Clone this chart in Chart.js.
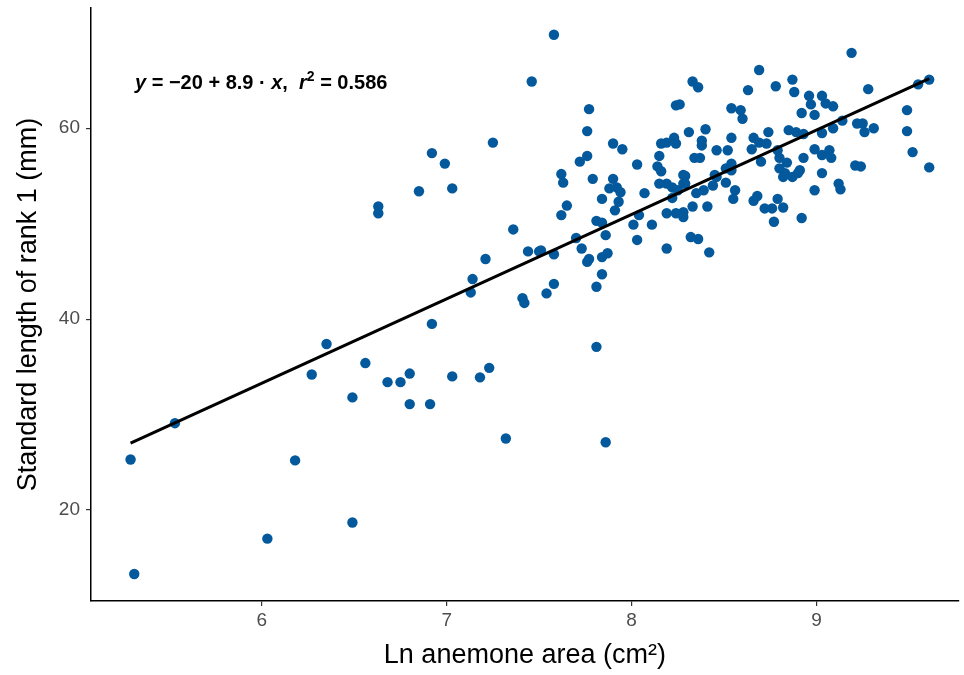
<!DOCTYPE html>
<html>
<head>
<meta charset="utf-8">
<script src="https://cdn.jsdelivr.net/npm/chart.js@4.4.1/dist/chart.umd.min.js"></script>
<style>
  html, body { margin: 0; padding: 0; background: #fff; }
  canvas { display: block; }
</style>
</head>
<body>
<canvas id="chart" width="964" height="675"></canvas>
<script>
// ln anemone area (x) and standard length of rank 1 fish (y)
const lnArea = [
  6.92, 6.35, 6.56, 6.27, 6.80, 6.68, 6.75, 7.03, 7.18, 7.23,
  6.49, 6.80, 6.91, 5.53, 7.32, 5.29, 6.18, 6.49, 6.03, 5.31,
  7.25, 6.92, 6.99, 6.85, 7.03, 6.63, 6.63, 7.36, 7.44, 7.50,
  7.58, 7.21, 7.14, 7.13, 7.41, 7.42, 7.54, 7.58,
  7.58, 7.46, 7.77, 7.76, 8.24, 7.90, 7.95, 7.76, 7.72, 8.03,
  8.15, 8.16, 8.19, 8.23, 8.24, 8.14, 8.16, 7.62, 7.79, 7.90,
  7.63, 7.88, 7.92, 7.94, 7.84, 7.93, 8.07, 8.15, 8.19, 8.22,
  8.28, 8.28, 8.25, 8.22, 8.35, 7.65, 7.62, 7.91, 7.81, 7.84,
  8.04, 8.01, 8.11, 8.19, 8.24, 8.28, 8.28, 8.33, 7.86, 7.70,
  7.73, 8.03, 8.19, 8.32, 8.36, 7.51, 7.77, 7.76, 7.84, 7.87,
  7.84, 7.81, 7.81, 7.86,
  8.69, 8.33, 8.36, 8.63, 8.78, 8.87, 8.88, 8.96, 9.03, 8.97,
  8.92, 8.99, 9.05, 8.26, 8.54, 8.59, 8.60, 8.31, 8.40, 8.38,
  8.38, 8.54, 8.74, 8.66, 8.69, 8.73, 8.65, 8.46, 8.52, 8.85,
  8.89, 8.93, 9.03, 8.34, 8.37, 8.70, 8.79, 8.80, 8.84, 8.93,
  8.99, 9.03, 9.07, 8.54, 8.51, 8.45, 8.29, 8.80, 8.83, 8.91,
  9.03,
  8.29, 8.46, 8.51, 8.54, 8.44, 8.39, 8.41, 8.56, 8.55, 8.68,
  8.66, 8.72, 8.76, 8.79, 8.82, 8.77, 8.92, 8.99, 8.82, 8.87,
  8.90, 8.42,
  9.19, 9.28, 9.55, 9.61, 9.09, 9.14, 9.09, 9.22, 9.25, 9.26,
  9.31, 9.49, 9.49, 9.52, 9.61, 9.08, 9.21, 9.24, 9.12, 9.13
];
const stdLength = [
  39.5, 37.4, 35.4, 34.2, 34.3, 33.4, 33.4, 34.0, 33.9, 34.9,
  31.8, 31.1, 31.1, 29.1, 27.5, 25.3, 25.2, 18.7, 17.0, 13.3,
  58.5, 57.4, 56.3, 53.4, 53.7, 51.8, 51.1, 49.4, 47.1, 47.1,
  46.8, 46.3, 44.2, 42.8, 42.2, 41.7, 42.7, 43.7,
  69.8, 64.9, 62.0, 59.7, 62.4, 58.4, 57.8, 57.1, 56.5, 56.2,
  57.1, 58.4, 58.5, 59.0, 58.4, 56.0, 55.5, 55.2, 54.7, 54.7,
  54.3, 53.7, 53.8, 53.3, 52.6, 52.3, 53.2, 54.2, 54.2, 53.8,
  55.1, 54.2, 53.5, 52.7, 53.2, 51.9, 50.9, 51.4, 50.3, 50.1,
  50.9, 49.9, 49.9, 51.1, 51.1, 51.2, 50.7, 51.8, 48.8, 48.5,
  47.4, 48.3, 47.4, 48.6, 48.4, 47.2, 46.3, 46.0, 46.5, 46.9,
  44.7, 43.4, 37.1, 27.1,
  66.1, 64.9, 64.3, 64.0, 64.4, 65.1, 63.8, 63.4, 63.4, 62.5,
  61.6, 61.4, 62.6, 62.5, 62.1, 61.9, 61.0, 59.6, 59.9, 58.7,
  58.2, 59.0, 59.6, 59.0, 58.5, 58.4, 57.8, 57.7, 57.7, 59.8,
  59.6, 59.4, 59.5, 56.9, 56.9, 56.5, 57.7, 56.9, 56.4, 56.9,
  57.8, 57.2, 57.7, 56.3, 55.8, 55.1, 55.0, 55.8, 55.3, 55.6,
  55.3,
  54.2, 54.9, 54.3, 55.6, 54.0, 53.5, 51.8, 53.5, 52.6, 52.9,
  52.4, 51.6, 51.6, 52.6, 51.7, 50.2, 50.6, 53.5, 54.9, 54.9,
  55.3, 47.0,
  67.9, 64.1, 64.6, 65.1, 62.3, 60.8, 60.0, 60.5, 60.5, 59.6,
  60.0, 61.9, 59.7, 57.5, 55.9, 56.9, 56.1, 56.0, 54.2, 53.6
];

// fitted line ends
const fitX = [5.29, 9.61];
const fitY = [27.0, 65.2];

const xTicks = [6, 7, 8, 9];
const yTicks = [20, 40, 60];

// equation label, pieces drawn one after the other
const eqParts = [
  { t: 'y', it: true },
  { t: ' = \u221220 + 8.9 \u00b7 ' },
  { t: 'x', it: true },
  { t: ',  ' },
  { t: 'r', it: true },
  { t: '2', sup: true },
  { t: ' = 0.586' }
];

const FONT = '"Liberation Sans", Arial, Helvetica, sans-serif';
Chart.defaults.font.family = FONT;

const points = lnArea.map((x, i) => ({ x: x, y: stdLength[i] }));
const fitLine = fitX.map((x, i) => ({ x: x, y: fitY[i] }));

const eqLabel = {
  id: 'eqLabel',
  afterDatasetsDraw(chart) {
    const ctx = chart.ctx;
    const area = chart.chartArea;
    let x = area.left + 44;
    const y = area.top + 81;
    ctx.save();
    ctx.fillStyle = '#000';
    ctx.textBaseline = 'alphabetic';
    ctx.textAlign = 'left';
    for (const p of eqParts) {
      const size = p.sup ? 14 : 20;
      ctx.font = (p.it ? 'italic ' : '') + 'bold ' + size + 'px ' + FONT;
      ctx.fillText(p.t, x, p.sup ? y - 8 : y);
      x += ctx.measureText(p.t).width;
    }
    ctx.restore();
  }
};

const axisGrid = {
  drawOnChartArea: false,
  drawTicks: true,
  tickLength: 5,
  color: '#333333',
  lineWidth: 1.2
};

new Chart(document.getElementById('chart'), {
  type: 'scatter',
  data: {
    datasets: [
      {
        type: 'line',
        data: fitLine,
        borderColor: '#000',
        borderWidth: 3,
        pointRadius: 0,
        fill: false,
        order: 0
      },
      {
        data: points,
        backgroundColor: '#03599b',
        borderWidth: 0,
        pointRadius: 5.2,
        order: 1
      }
    ]
  },
  options: {
    responsive: false,
    animation: false,
    layout: { padding: { top: 8, right: 0, left: 0, bottom: 0 } },
    plugins: {
      legend: { display: false },
      tooltip: { enabled: false }
    },
    scales: {
      x: {
        type: 'linear',
        min: 5.076,
        max: 9.77,
        afterBuildTicks: s => { s.ticks = xTicks.map(v => ({ value: v })); },
        afterFit: s => { s.height = 74; s.paddingLeft = 0; s.paddingRight = 0; },
        border: { display: true, color: '#000', width: 1.5 },
        grid: axisGrid,
        ticks: { color: '#4d4d4d', font: { size: 19 }, padding: 3 },
        title: {
          display: true,
          text: 'Ln anemone area (cm\u00b2)',
          color: '#000',
          font: { size: 27 },
          padding: { top: 0, bottom: 3 }
        }
      },
      y: {
        type: 'linear',
        min: 10.47,
        max: 72.6,
        afterBuildTicks: s => { s.ticks = yTicks.map(v => ({ value: v })); },
        afterFit: s => { s.width = 91; s.paddingTop = 0; s.paddingBottom = 0; },
        border: { display: true, color: '#000', width: 1.5 },
        grid: axisGrid,
        ticks: { color: '#4d4d4d', font: { size: 19 }, padding: 6 },
        title: {
          display: true,
          text: 'Standard length of rank 1 (mm)',
          color: '#000',
          font: { size: 27 },
          padding: { top: 12, bottom: 0 }
        }
      }
    }
  },
  plugins: [eqLabel]
});
</script>
</body>
</html>
